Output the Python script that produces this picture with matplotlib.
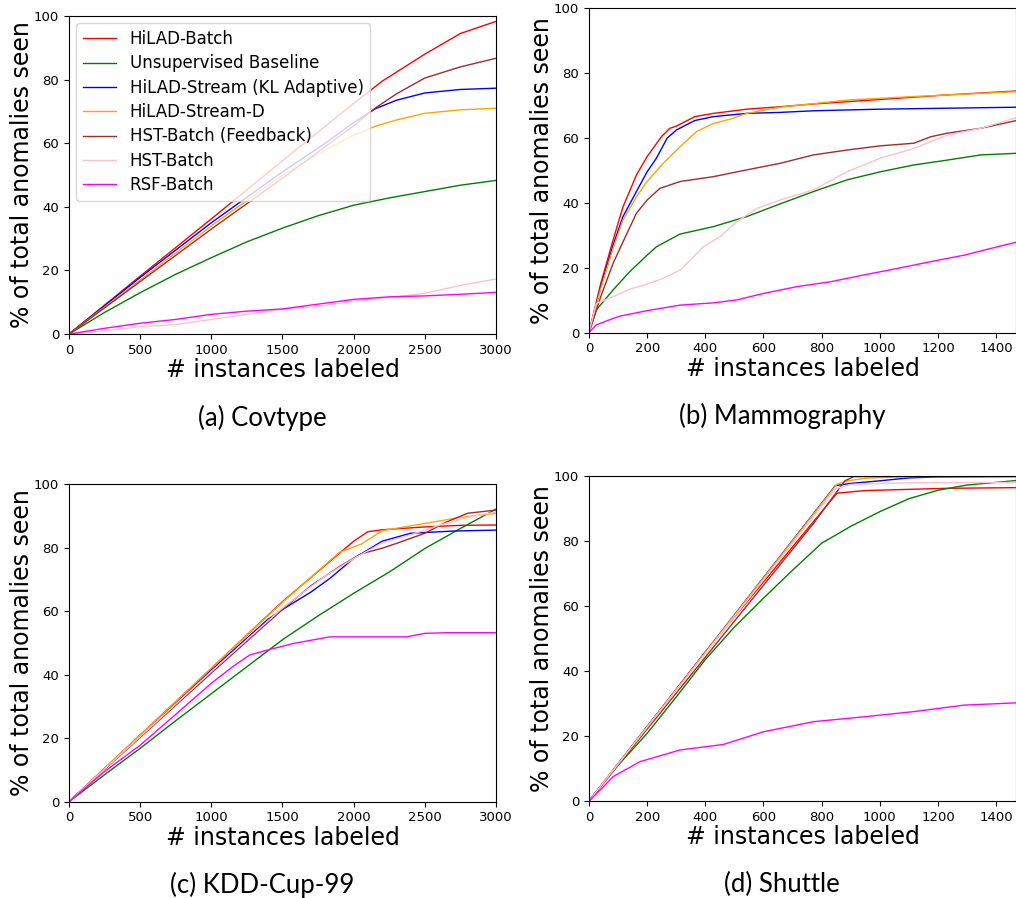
import matplotlib
matplotlib.use('agg')
import matplotlib.pyplot as plt

# series order / colours
names = ['HiLAD-Batch', 'Unsupervised Baseline', 'HiLAD-Stream (KL Adaptive)',
         'HiLAD-Stream-D', 'HST-Batch (Feedback)', 'HST-Batch', 'RSF-Batch']
colors = ['red', 'green', 'blue', 'orange', 'brown', 'pink', 'magenta']

# (a) Covtype
cov_red_x = [0, 500, 1000, 1500, 2000, 2200, 2500, 2750, 3000]
cov_red_y = [0, 18.2, 36.2, 54.5, 72.5, 79.5, 88, 94.5, 98.3]
cov_green_x = [0, 250, 500, 750, 1000, 1250, 1500, 1750, 2000, 2250, 2500, 2750, 3000]
cov_green_y = [0, 6.8, 13, 18.8, 24, 29, 33.3, 37.2, 40.5, 42.8, 44.8, 46.8, 48.3]
cov_blue_x = [0, 500, 1000, 1500, 1800, 2000, 2150, 2300, 2500, 2750, 3000]
cov_blue_y = [0, 17.8, 35, 51, 60, 66.5, 70.8, 73.5, 75.8, 76.9, 77.3]
cov_orange_x = [0, 500, 1000, 1500, 1800, 2000, 2150, 2300, 2500, 2750, 3000]
cov_orange_y = [0, 17, 34, 50, 57.8, 62.5, 65.3, 67.3, 69.4, 70.5, 71]
cov_brown_x = [0, 500, 1000, 1500, 2000, 2150, 2300, 2500, 2750, 3000]
cov_brown_y = [0, 16.5, 33, 49, 65.5, 71, 75.5, 80.5, 84, 86.7]
cov_pink_x = [0, 250, 500, 750, 1000, 1250, 1500, 1750, 2000, 2250, 2500, 2750, 3000]
cov_pink_y = [0, 1, 2.3, 3, 4.6, 6.2, 7.8, 8.7, 10.4, 11.5, 12.8, 15.3, 17.3]
cov_mag_x = [0, 250, 500, 750, 1000, 1250, 1500, 1750, 2000, 2250, 2500, 2750, 3000]
cov_mag_y = [0, 1.8, 3.4, 4.6, 6.2, 7.2, 7.9, 9.4, 10.9, 11.7, 12, 12.5, 13.1]

# (b) Mammography
mam_red_x = [0, 40, 83, 117, 163, 200, 249, 278, 301, 364, 428, 543, 650, 772, 1002, 1232, 1470]
mam_red_y = [0, 15, 28.6, 38.8, 48.6, 54.3, 60.4, 63, 63.7, 66.6, 67.6, 68.9, 69.6, 70.5, 71.9, 73.3, 74.5]
mam_green_x = [0, 25, 83, 140, 200, 232, 313, 428, 543, 657, 772, 887, 1002, 1117, 1232, 1347, 1470]
mam_green_y = [0, 7, 13.2, 18.8, 23.9, 26.5, 30.4, 32.7, 35.8, 39.7, 43.5, 47.1, 49.6, 51.7, 53.2, 54.8, 55.3]
mam_blue_x = [0, 40, 83, 117, 163, 200, 232, 269, 301, 364, 428, 543, 657, 772, 1002, 1470]
mam_blue_y = [0, 14, 27, 35.8, 43.5, 49.6, 53.8, 60, 62.5, 65.4, 66.6, 67.6, 67.9, 68.4, 68.9, 69.5]
mam_orange_x = [0, 40, 83, 117, 163, 200, 255, 313, 370, 428, 485, 543, 657, 887, 1117, 1470]
mam_orange_y = [0, 13.5, 26, 34.7, 41.9, 46.6, 52.2, 57.3, 62, 64.5, 65.8, 67.6, 69.5, 71.7, 72.8, 74.3]
mam_brown_x = [0, 40, 83, 117, 163, 200, 244, 261, 313, 428, 543, 657, 772, 887, 1002, 1117, 1175, 1232, 1347, 1470]
mam_brown_y = [0, 11, 21.4, 28, 36.8, 40.9, 44.5, 45, 46.6, 48.1, 50.2, 52.2, 54.8, 56.3, 57.6, 58.4, 60.4, 61.5, 63, 65.4]
mam_pink_x = [0, 25, 83, 140, 200, 255, 313, 359, 393, 451, 508, 577, 657, 772, 887, 1002, 1117, 1232, 1347, 1470]
mam_pink_y = [0, 9, 11.1, 13.4, 15, 16.8, 19.3, 23.4, 26.5, 29.6, 34.2, 38.3, 40.9, 44, 49.6, 53.8, 56.8, 60.9, 63, 66.3]
mam_mag_x = [0, 25, 83, 106, 200, 313, 428, 508, 600, 715, 830, 945, 1060, 1175, 1290, 1405, 1470]
mam_mag_y = [0, 2.4, 4.4, 5.1, 6.8, 8.5, 9.2, 10.1, 12.1, 14.2, 15.7, 17.8, 19.8, 21.9, 23.9, 26.5, 27.9]

# (c) KDD-Cup-99
kdd_red_x = [0, 500, 1000, 1500, 2000, 2100, 2200, 2500, 2750, 3000]
kdd_red_y = [0, 21, 42, 63, 82, 85, 85.6, 86.5, 87, 87.1]
kdd_green_x = [0, 250, 500, 750, 1000, 1250, 1500, 1750, 2000, 2250, 2500, 2750, 3000]
kdd_green_y = [0, 8.5, 16.8, 25.5, 34, 42.5, 51, 58.5, 65.6, 72.3, 79.7, 86, 92.1]
kdd_blue_x = [0, 1000, 1400, 1500, 1700, 1833, 2000, 2200, 2400, 2700, 3000]
kdd_blue_y = [0, 41.5, 57.5, 60.5, 66, 70.3, 76.6, 82, 84.5, 85.2, 85.5]
kdd_orange_x = [0, 1000, 1500, 1900, 2050, 2200, 2500, 2750, 3000]
kdd_orange_y = [0, 42, 62.8, 78.5, 81, 85.3, 87.6, 89.5, 90.8]
kdd_brown_x = [0, 1000, 1500, 1700, 1900, 2050, 2200, 2300, 2500, 2650, 2800, 3000]
kdd_brown_y = [0, 40.5, 60.5, 68, 74, 78, 79.8, 81.3, 84.5, 88, 90.8, 91.8]
kdd_pink_x = [0, 1000, 1500, 1800, 2000, 2200, 2400, 2600, 2800, 3000]
kdd_pink_y = [0, 41, 61, 71, 76.5, 81.5, 84, 87, 89.5, 91.2]
kdd_mag_x = [0, 250, 500, 750, 1000, 1150, 1270, 1400, 1575, 1833, 2372, 2500, 2650, 3000]
kdd_mag_y = [0, 9.5, 17.8, 27.5, 37.3, 42.5, 46.2, 47.8, 49.8, 51.9, 51.9, 53, 53.2, 53.2]

# (d) Shuttle
shu_red_x = [0, 400, 853, 950, 1232, 1470]
shu_red_y = [0, 45.8, 94.7, 95.5, 96.2, 96.4]
shu_green_x = [0, 100, 200, 300, 400, 500, 600, 700, 800, 900, 1000, 1100, 1200, 1300, 1470]
shu_green_y = [0, 11, 20.8, 32, 43.5, 53.5, 62.4, 71, 79.3, 84.5, 89, 93, 95.6, 97.2, 98.6]
shu_blue_x = [0, 847, 900, 1000, 1100, 1200, 1470]
shu_blue_y = [0, 97, 97.7, 98.5, 99.4, 99.7, 99.8]
shu_orange_x = [0, 853, 890, 950, 1100, 1470]
shu_orange_y = [0, 97.5, 98.5, 99.3, 99.8, 99.9]
shu_brown_x = [0, 772, 880, 910, 1470]
shu_brown_y = [0, 85.4, 98.5, 99.8, 100]
shu_pink_x = [0, 847, 900, 1100, 1470]
shu_pink_y = [0, 96, 97.4, 97.9, 98]
shu_mag_x = [0, 40, 83, 175, 313, 462, 600, 772, 945, 1117, 1290, 1470]
shu_mag_y = [0, 3.5, 7.5, 12.1, 15.7, 17.4, 21.3, 24.4, 25.9, 27.5, 29.5, 30.2]

panels = [
    ('(a) Covtype', 3000, [0, 500, 1000, 1500, 2000, 2500, 3000],
     [(cov_red_x, cov_red_y), (cov_green_x, cov_green_y), (cov_blue_x, cov_blue_y),
      (cov_orange_x, cov_orange_y), (cov_brown_x, cov_brown_y), (cov_pink_x, cov_pink_y),
      (cov_mag_x, cov_mag_y)]),
    ('(b) Mammography', 1469, [0, 200, 400, 600, 800, 1000, 1200, 1400],
     [(mam_red_x, mam_red_y), (mam_green_x, mam_green_y), (mam_blue_x, mam_blue_y),
      (mam_orange_x, mam_orange_y), (mam_brown_x, mam_brown_y), (mam_pink_x, mam_pink_y),
      (mam_mag_x, mam_mag_y)]),
    ('(c) KDD-Cup-99', 3000, [0, 500, 1000, 1500, 2000, 2500, 3000],
     [(kdd_red_x, kdd_red_y), (kdd_green_x, kdd_green_y), (kdd_blue_x, kdd_blue_y),
      (kdd_orange_x, kdd_orange_y), (kdd_brown_x, kdd_brown_y), (kdd_pink_x, kdd_pink_y),
      (kdd_mag_x, kdd_mag_y)]),
    ('(d) Shuttle', 1469, [0, 200, 400, 600, 800, 1000, 1200, 1400],
     [(shu_red_x, shu_red_y), (shu_green_x, shu_green_y), (shu_blue_x, shu_blue_y),
      (shu_orange_x, shu_orange_y), (shu_brown_x, shu_brown_y), (shu_pink_x, shu_pink_y),
      (shu_mag_x, shu_mag_y)]),
]

# axes boxes in figure fractions [left, bottom, width, height]
boxes = [[0.0679, 0.628, 0.4203, 0.3542],
         [0.5797, 0.6295, 0.4205, 0.3613],
         [0.0679, 0.1072, 0.4203, 0.3538],
         [0.5797, 0.108, 0.4205, 0.362]]

fig = plt.figure(figsize=(10.16, 8.98), dpi=100)

for i, (cap, xmax, xt, series) in enumerate(panels):
    ax = fig.add_axes(boxes[i])
    for (xs, ys), nm, c in zip(series, names, colors):
        ax.plot(xs, ys, color=c, lw=1, label=nm)
    ax.set_xlim(0, xmax)
    ax.set_ylim(0, 100)
    ax.set_xticks(xt)
    ax.set_yticks([0, 20, 40, 60, 80, 100])
    ax.tick_params(labelsize=9.5)
    ax.set_xlabel('# instances labeled', fontsize=17, labelpad=1)
    ax.set_ylabel('% of total anomalies seen', fontsize=17, labelpad=0)
    b = boxes[i]
    fig.text(b[0] + 0.4203 / 2 - 0.02, b[1] - 0.093, cap, ha='center', va='center',
             fontsize=18.5, family=['Lato', 'DejaVu Sans'])
    if i == 0:
        ax.legend(loc='upper left', fontsize=12, borderaxespad=0.45, labelspacing=0.38)

plt.savefig('out.png', dpi=100)
